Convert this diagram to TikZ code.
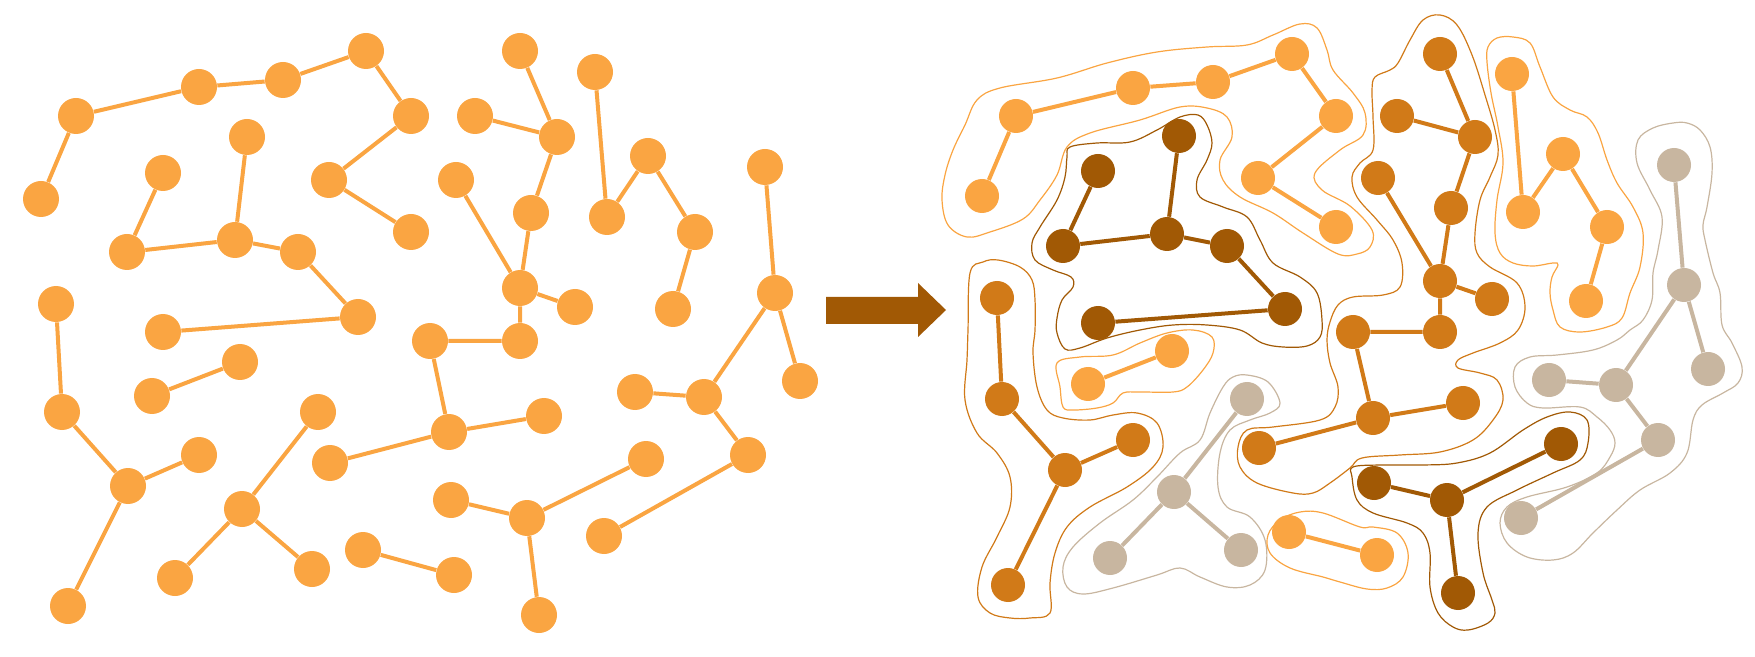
\documentclass[tikz,border=0pt]{standalone}
\definecolor{lo}{HTML}{FAA542}
\definecolor{mo}{HTML}{D17A18}
\definecolor{dk}{HTML}{A15905}
\definecolor{bg}{HTML}{C8B6A0}
\tikzset{
  vtx/.style={circle, inner sep=0pt, minimum size=18pt, fill=#1},
  vtxr/.style={circle, inner sep=0pt, minimum size=17pt, fill=#1},
  lnk/.style={line width=2pt, draw=#1},
  hull/.style={line width=0.6pt, draw=#1},
}
\begin{document}
\begin{tikzpicture}[x=0.5pt,y=-0.5pt]
\useasboundingbox (0,0) rectangle (1755,657);
% ---------------- left graph ----------------
\foreach \n/\x/\y in {a1/76/116,a2/41/199,a3/199/87,a4/283/80,a5/366/51,a6/411/116,a7/329/180,a8/411/232,
 b1/247/137,b2/163/173,b3/127/252,b4/235/240,b5/298/252,b6/358/317,b7/163/332,
 c1/240/362,c2/152/396,
 d1/56/304,d2/62/412,d3/128/486,d4/199/455,d5/68/606,
 e1/318/412,e2/242/509,e3/175/578,e4/312/569,
 f1/330/463,f2/449/432,f3/544/416,f4/430/341,f5/520/341,f6/520/288,f7/531/213,f8/456/180,f9/575/307,f10/557/137,f11/520/51,f12/475/116,
 g1/363/550,g2/454/575,
 h1/451/500,h2/527/518,h3/646/459,h4/539/615,
 i1/595/72,i2/607/217,i3/648/156,i4/695/232,i5/673/309,
 j1/765/167,j2/775/293,j3/704/397,j4/635/392,j5/748/455,j6/604/536,j7/800/381}
 {\node[vtx=lo] (L\n) at (\x,\y) {};}
\draw[lnk=lo] (La2)--(La1)--(La3)--(La4)--(La5)--(La6)--(La7)--(La8);
\draw[lnk=lo] (Lb1)--(Lb4)--(Lb3)--(Lb2);
\draw[lnk=lo] (Lb4)--(Lb5)--(Lb6)--(Lb7);
\draw[lnk=lo] (Lc1)--(Lc2);
\draw[lnk=lo] (Ld1)--(Ld2)--(Ld3)--(Ld4);
\draw[lnk=lo] (Ld3)--(Ld5);
\draw[lnk=lo] (Le1)--(Le2)--(Le3);
\draw[lnk=lo] (Le2)--(Le4);
\draw[lnk=lo] (Lf1)--(Lf2)--(Lf3);
\draw[lnk=lo] (Lf2)--(Lf4)--(Lf5)--(Lf6)--(Lf7)--(Lf10)--(Lf11);
\draw[lnk=lo] (Lf6)--(Lf8);
\draw[lnk=lo] (Lf6)--(Lf9);
\draw[lnk=lo] (Lf10)--(Lf12);
\draw[lnk=lo] (Lg1)--(Lg2);
\draw[lnk=lo] (Lh1)--(Lh2)--(Lh3);
\draw[lnk=lo] (Lh2)--(Lh4);
\draw[lnk=lo] (Li1)--(Li2)--(Li3)--(Li4)--(Li5);
\draw[lnk=lo] (Lj1)--(Lj2)--(Lj3)--(Lj4);
\draw[lnk=lo] (Lj2)--(Lj7);
\draw[lnk=lo] (Lj3)--(Lj5)--(Lj6);
% ---------------- arrow ----------------
\fill[dk] (826,297) -- (918,297) -- (918,283) -- (946,310) -- (918,337) -- (918,324) -- (826,324) -- cycle;
% ---------------- right graph: hulls ----------------
\draw[hull=lo] plot[smooth cycle, tension=0.6] coordinates {(1023,219) (990,232) (967,237) (948,225) (942,200) (945,175) (953,150) (965,125) (977,100) (1000,88) (1057,78) (1107,63) (1157,52) (1207,47) (1247,45) (1273,35) (1300,24) (1317,28) (1327,50) (1333,70) (1353,93) (1365,113) (1363,135) (1340,150) (1315,173) (1322,190) (1350,206) (1372,230) (1370,247) (1357,254) (1338,254) (1303,233) (1273,213) (1240,197) (1223,180) (1220,160) (1232,137) (1227,117) (1207,108) (1180,107) (1140,120) (1090,133) (1067,147) (1057,175) (1040,200)};
\draw[hull=dk] plot[smooth cycle, tension=0.6] coordinates {(1070,147) (1097,143) (1130,142) (1157,130) (1180,117) (1198,115) (1207,125) (1212,143) (1207,160) (1197,180) (1200,197) (1223,207) (1247,217) (1260,240) (1273,263) (1300,277) (1317,293) (1322,320) (1320,337) (1307,346) (1283,347) (1262,343) (1240,330) (1207,325) (1173,325) (1140,330) (1107,338) (1080,348) (1065,349) (1057,333) (1057,318) (1062,300) (1073,287) (1071,277) (1053,270) (1035,260) (1032,243) (1040,227) (1057,200) (1065,177) (1067,157)};
\draw[hull=lo] plot[smooth cycle, tension=0.6] coordinates {(1057,363) (1080,357) (1113,355) (1140,343) (1167,333) (1193,330) (1212,337) (1213,353) (1203,370) (1187,387) (1173,392) (1140,392) (1123,393) (1113,403) (1097,408) (1073,410) (1063,407) (1060,387)};
\draw[hull=mo] plot[smooth cycle, tension=0.6] coordinates {(968,330) (970,273) (983,262) (998,260) (1020,267) (1032,280) (1035,300) (1035,330) (1033,353) (1037,387) (1047,410) (1063,418) (1090,420) (1113,415) (1137,413) (1157,423) (1163,447) (1153,467) (1127,487) (1090,507) (1067,527) (1055,553) (1050,583) (1050,613) (1030,618) (1010,618) (990,613) (978,597) (982,567) (997,537) (1010,507) (1010,477) (997,453) (977,433) (965,400) (967,360)};
\draw[hull=bg] plot[smooth cycle, tension=0.6] coordinates {(1247,375) (1268,382) (1280,403) (1270,413) (1250,420) (1230,430) (1220,453) (1218,487) (1227,507) (1250,517) (1265,540) (1265,570) (1250,585) (1227,587) (1200,577) (1180,568) (1157,575) (1113,588) (1083,594) (1067,587) (1063,567) (1073,547) (1100,523) (1133,500) (1157,477) (1180,453) (1200,440) (1210,413) (1223,387) (1233,377)};
\draw[hull=lo] plot[smooth cycle, tension=0.6] coordinates {(1280,520) (1300,512) (1323,513) (1360,527) (1373,527) (1397,533) (1408,553) (1403,577) (1387,588) (1367,589) (1340,582) (1323,577) (1290,568) (1270,553) (1268,535)};
\draw[hull=dk] plot[smooth cycle, tension=0.6] coordinates {(1353,467) (1380,465) (1423,465) (1457,463) (1490,453) (1523,430) (1547,417) (1570,412) (1587,420) (1588,443) (1580,460) (1553,473) (1517,490) (1487,507) (1478,533) (1483,573) (1492,600) (1495,613) (1488,623) (1468,630) (1453,627) (1438,613) (1430,587) (1430,553) (1423,533) (1407,523) (1373,513) (1357,500) (1352,477)};
\draw[hull=mo] plot[smooth cycle, tension=0.6] coordinates {(1440,15) (1423,20) (1410,40) (1398,63) (1390,70) (1375,77) (1372,90) (1373,117) (1373,150) (1360,163) (1352,177) (1357,197) (1377,220) (1393,240) (1402,263) (1400,287) (1383,295) (1353,297) (1338,305) (1330,322) (1327,340) (1330,363) (1338,387) (1335,407) (1320,420) (1273,427) (1247,430) (1238,447) (1240,467) (1257,483) (1293,493) (1313,493) (1330,483) (1350,468) (1362,458) (1400,455) (1440,452) (1473,440) (1493,420) (1503,400) (1497,380) (1480,373) (1458,368) (1458,360) (1473,353) (1500,343) (1518,330) (1525,307) (1517,283) (1490,267) (1477,253) (1475,233) (1480,200) (1490,177) (1498,155) (1495,130) (1485,95) (1472,55) (1457,25)};
\draw[hull=lo] plot[smooth cycle, tension=0.6] coordinates {(1488,47) (1497,38) (1513,37) (1530,43) (1540,67) (1553,97) (1570,110) (1587,117) (1598,133) (1607,160) (1617,183) (1633,207) (1643,233) (1640,267) (1630,293) (1622,318) (1607,327) (1580,332) (1560,327) (1553,310) (1550,293) (1552,277) (1558,265) (1553,263) (1533,266) (1513,263) (1500,253) (1495,233) (1497,200) (1503,163) (1498,127) (1491,93) (1487,62)};
\draw[hull=bg] plot[smooth cycle, tension=0.6] coordinates {(1673,123) (1653,128) (1638,140) (1637,163) (1650,190) (1662,217) (1658,250) (1653,273) (1652,300) (1643,320) (1630,330) (1617,340) (1593,350) (1557,355) (1530,357) (1515,367) (1515,387) (1527,403) (1543,408) (1580,407) (1597,417) (1610,430) (1615,443) (1610,457) (1597,473) (1567,487) (1527,497) (1507,507) (1500,523) (1507,543) (1527,557) (1553,560) (1573,553) (1593,533) (1617,510) (1640,490) (1670,473) (1687,453) (1693,420) (1702,405) (1723,393) (1738,383) (1742,367) (1732,343) (1722,325) (1720,293) (1713,273) (1705,240) (1703,225) (1707,207) (1712,173) (1710,147) (1700,130) (1687,123)};
% ---------------- right graph: nodes ----------------
\foreach \n/\x/\y/\c in {a1/1016/116/lo,a2/982/196/lo,a3/1133/88/lo,a4/1213/82/lo,a5/1292/54/lo,a6/1336/116/lo,a7/1258/178/lo,a8/1336/227/lo,
 b1/1179/136/dk,b2/1098/171/dk,b3/1063/246/dk,b4/1167/234/dk,b5/1227/246/dk,b6/1285/309/dk,b7/1098/323/dk,
 c1/1172/351/lo,c2/1088/384/lo,
 d1/997/298/mo,d2/1002/399/mo,d3/1065/470/mo,d4/1133/440/mo,d5/1008/585/mo,
 e1/1247/399/bg,e2/1174/492/bg,e3/1110/558/bg,e4/1241/550/bg,
 f1/1259/448/mo,f2/1373/418/mo,f3/1463/403/mo,f4/1353/332/mo,f5/1440/332/mo,f6/1440/281/mo,f7/1451/208/mo,f8/1378/178/mo,f9/1492/299/mo,f10/1475/137/mo,f11/1440/54/mo,f12/1397/116/mo,
 g1/1289/532/lo,g2/1377/555/lo,
 h1/1374/483/dk,h2/1447/500/dk,h3/1561/444/dk,h4/1458/593/dk,
 i1/1512/74/lo,i2/1523/212/lo,i3/1563/154/lo,i4/1607/227/lo,i5/1586/301/lo,
 j1/1674/165/bg,j2/1684/285/bg,j3/1616/385/bg,j4/1549/380/bg,j5/1658/440/bg,j6/1521/518/bg,j7/1708/369/bg}
 {\node[vtxr=\c] (R\n) at (\x,\y) {};}
\draw[lnk=lo] (Ra2)--(Ra1)--(Ra3)--(Ra4)--(Ra5)--(Ra6)--(Ra7)--(Ra8);
\draw[lnk=dk] (Rb1)--(Rb4)--(Rb3)--(Rb2);
\draw[lnk=dk] (Rb4)--(Rb5)--(Rb6)--(Rb7);
\draw[lnk=lo] (Rc1)--(Rc2);
\draw[lnk=mo] (Rd1)--(Rd2)--(Rd3)--(Rd4);
\draw[lnk=mo] (Rd3)--(Rd5);
\draw[lnk=bg] (Re1)--(Re2)--(Re3);
\draw[lnk=bg] (Re2)--(Re4);
\draw[lnk=mo] (Rf1)--(Rf2)--(Rf3);
\draw[lnk=mo] (Rf2)--(Rf4)--(Rf5)--(Rf6)--(Rf7)--(Rf10)--(Rf11);
\draw[lnk=mo] (Rf6)--(Rf8);
\draw[lnk=mo] (Rf6)--(Rf9);
\draw[lnk=mo] (Rf10)--(Rf12);
\draw[lnk=lo] (Rg1)--(Rg2);
\draw[lnk=dk] (Rh1)--(Rh2)--(Rh3);
\draw[lnk=dk] (Rh2)--(Rh4);
\draw[lnk=lo] (Ri1)--(Ri2)--(Ri3)--(Ri4)--(Ri5);
\draw[lnk=bg] (Rj1)--(Rj2)--(Rj3)--(Rj4);
\draw[lnk=bg] (Rj2)--(Rj7);
\draw[lnk=bg] (Rj3)--(Rj5)--(Rj6);
\end{tikzpicture}
\end{document}
